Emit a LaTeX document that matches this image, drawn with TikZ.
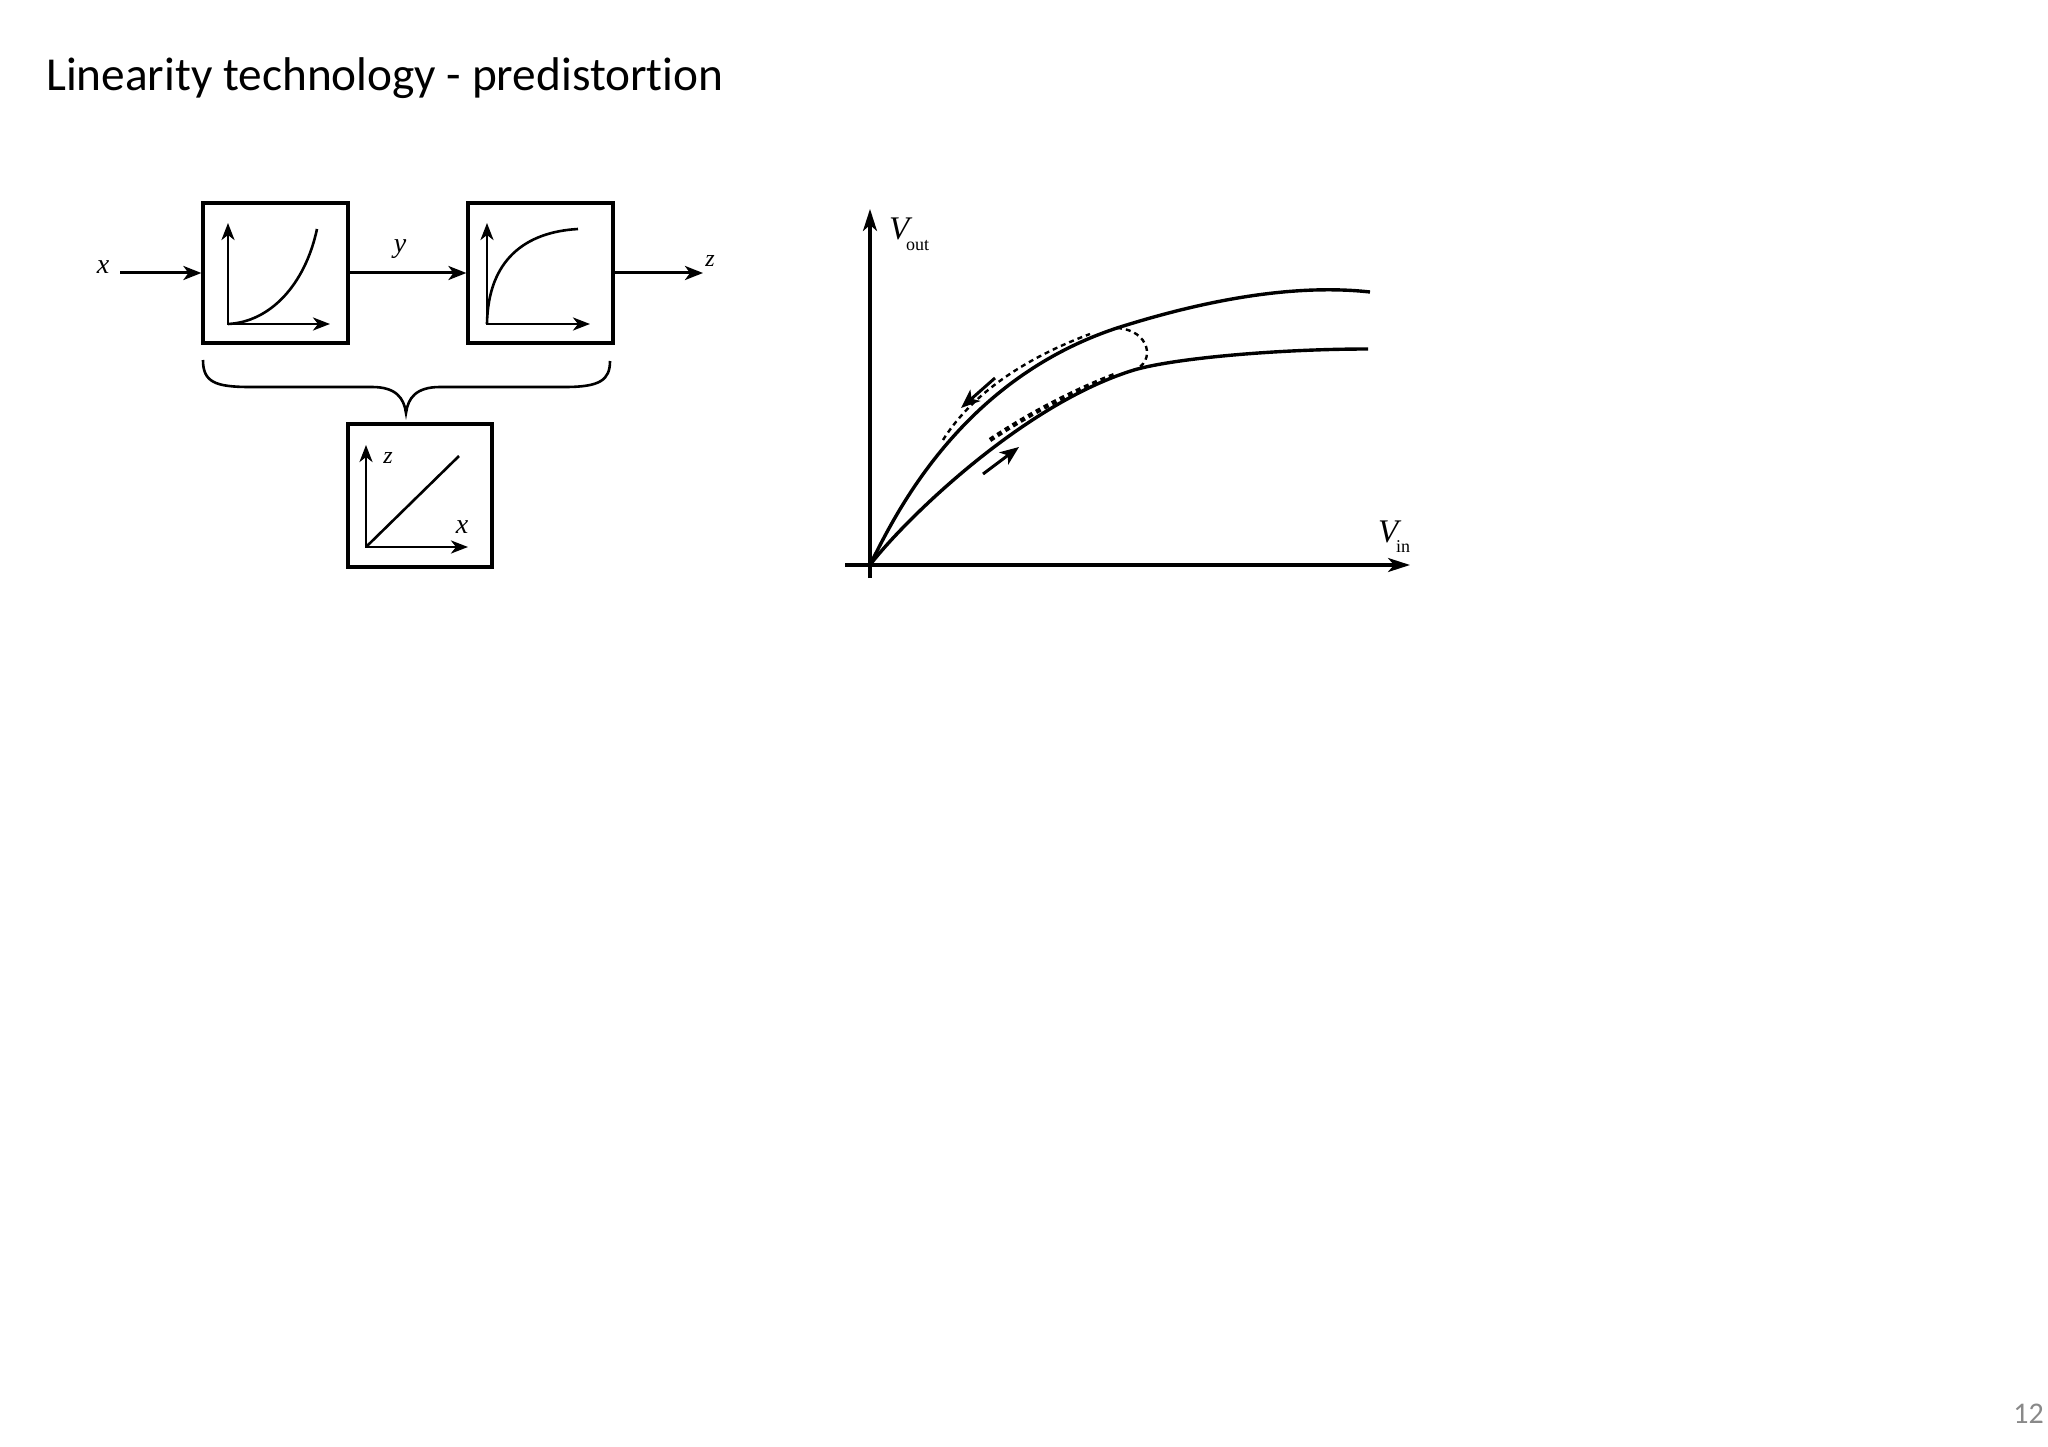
\documentclass[tikz,border=0pt]{standalone}
\usepackage{fontspec}
\setmainfont{Liberation Serif}
\newfontfamily\titlefont[Ligatures=NoCommon]{Carlito}
\usetikzlibrary{arrows.meta}
\definecolor{pgnum}{HTML}{898989}
\begin{document}
\begin{tikzpicture}[x=1pt,y=-1pt,
  every node/.style={inner sep=0pt},
  blk/.style={draw, line width=3.2pt, minimum width=145pt, minimum height=140pt, inner sep=0pt},
  arr/.style={line width=3pt, -{Stealth[length=18pt,width=14pt,inset=5pt]}},
  ax/.style={line width=2.8pt, line join=miter, {Stealth[length=17pt,width=13pt,inset=5pt]}-{Stealth[length=17pt,width=13pt,inset=5pt]}},
  crv/.style={line width=2.6pt},
  lbl/.style={font=\fontsize{28}{30}\selectfont\itshape},
  lbls/.style={font=\fontsize{24}{26}\selectfont\itshape},
  gax/.style={line width=3.2pt, -{Stealth[length=22pt,width=14pt,inset=6pt]}},
  gcrv/.style={line width=3.4pt, line join=round},
  dsh/.style={line width=2.4pt, dash pattern=on 5pt off 4pt},
  garr/.style={line width=3pt, -{Stealth[length=19pt,width=15pt,inset=5pt]}}
]
\useasboundingbox (0,0) rectangle (2048,1447);
\fill[white] (0,0) rectangle (2048,1447);

% title and page number
\node[anchor=base west, font=\titlefont\fontsize{47.3}{56}\selectfont] (title) at (46,91) {Linearity technology - predistortion};
\node[anchor=base east, text=pgnum, font=\titlefont\fontsize{30}{36}\selectfont] (pg) at (2044,1423) {12};

% block diagram
\node[blk] (b1) at (275.5,273) {};
\node[blk] (b2) at (540.5,273) {};
\node[blk, minimum width=144pt, minimum height=143pt] (b3) at (420,495.5) {};

\coordinate (xin) at (120,273);
\coordinate (zout) at (703,273);
\node[lbl] (lx) at (103,267) {x};
\node[lbl] (ly) at (400,249) {y};
\node[lbls] (lz) at (710,261) {z};
\draw[arr] (xin) -- (b1.west);
\draw[arr] (b1.east) -- (b2.west);
\draw[arr] (b2.east) -- (zout);

% inner plot 1
\draw[ax] (228,223) -- (228,324) -- (330,324);
\draw[crv] (228,324) .. controls (270,322) and (305,285) .. (317,229);
% inner plot 2
\draw[ax] (487,223) -- (487,324) -- (590,324);
\draw[crv] (487,324) .. controls (488,260) and (525,232) .. (578,229);
% inner plot 3
\draw[ax] (366,445) -- (366,547) -- (468,547);
\draw[crv] (366,547) -- (459,456);
\node[lbls] (l3z) at (388,458) {z};
\node[lbl] (l3x) at (462,527) {x};

% brace
\draw[line width=2.6pt] (203,360) .. controls (203,382) and (215,387) .. (250,387) -- (372,387) .. controls (396,387) and (404,398) .. (406,413) .. controls (408,398) and (416,387) .. (440,387) -- (565,387) .. controls (600,387) and (610,380) .. (610,361);

% graph
\coordinate (O) at (870,565);
\coordinate (J1) at (1117,328);
\coordinate (J2) at (1134,370);
\draw[gax] (870,578) -- (870,209);
\draw[gax] (845,565) -- (1410,565);
\node[anchor=base west, font=\fontsize{33}{35}\selectfont\itshape] (vout) at (889,240) {V};
\node[anchor=base west, font=\fontsize{18}{20}\selectfont] (voutsub) at (906,251) {out};
\node[anchor=base west, font=\fontsize{33}{35}\selectfont\itshape] (vin) at (1378,542) {V};
\node[anchor=base west, font=\fontsize{18}{20}\selectfont] (vinsub) at (1396,552) {in};

\draw[gcrv] (O) .. controls (895,515) and (960,380) .. (J1) .. controls (1180,308) and (1280,282) .. (1370,292);
\draw[gcrv] (O) .. controls (900,525) and (1020,405) .. (J2) .. controls (1175,358) and (1280,349) .. (1368,349);

\draw[dsh] (943,440) .. controls (968,400) and (1015,362) .. (1090,334);
\draw[line width=4.5pt, dash pattern=on 5pt off 4pt] (990,440) .. controls (1035,410) and (1080,388) .. (1117,374);
\draw[dsh] (J1) .. controls (1150,330) and (1156,362) .. (J2);

\coordinate (a1s) at (995,378);
\coordinate (a1e) at (961,408);
\coordinate (a2s) at (983,474);
\coordinate (a2e) at (1019,447);
\draw[garr] (a1s) -- (a1e);
\draw[garr] (a2s) -- (a2e);
\end{tikzpicture}
\end{document}
